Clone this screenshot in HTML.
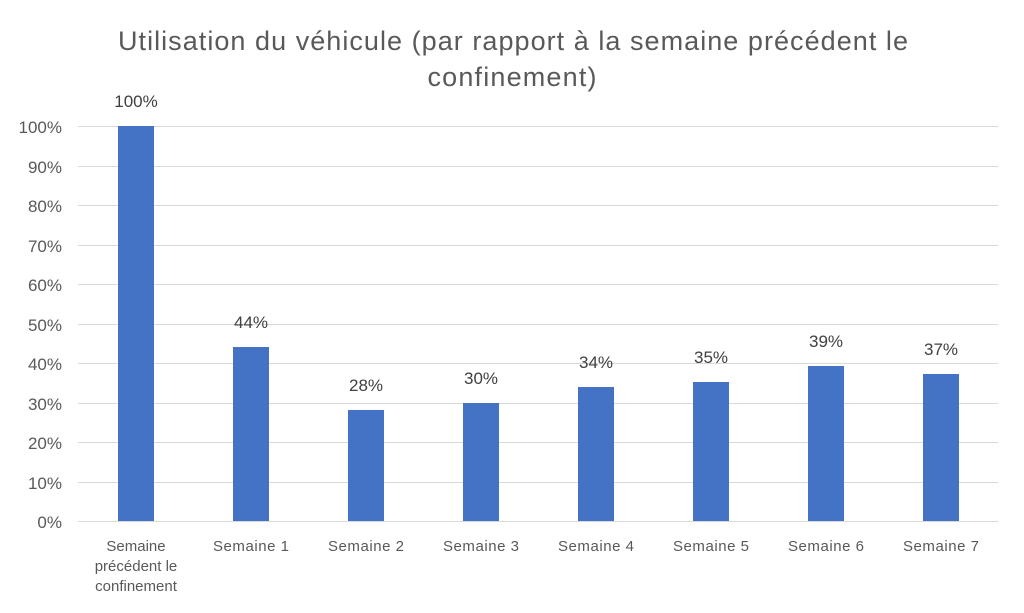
<!DOCTYPE html>
<html><head><meta charset="utf-8"><style>
body{margin:0;background:#fff;}
svg{display:block;font-family:"Liberation Sans",Arial,sans-serif;}
</style></head><body>
<svg width="1024" height="613" viewBox="0 0 1024 613" xmlns="http://www.w3.org/2000/svg">
<rect width="1024" height="613" fill="#fff"/>
<g fill="#595959" font-size="27" text-anchor="middle">
<text x="513" y="50" textLength="790" lengthAdjust="spacing">Utilisation du véhicule (par rapport à la semaine précédent le</text>
<text x="512" y="86" textLength="169" lengthAdjust="spacing">confinement)</text>
</g>
<g stroke="#d9d9d9" stroke-width="1">
<line x1="78" x2="998" y1="126.5" y2="126.5"/>
<line x1="78" x2="998" y1="166.5" y2="166.5"/>
<line x1="78" x2="998" y1="205.5" y2="205.5"/>
<line x1="78" x2="998" y1="245.5" y2="245.5"/>
<line x1="78" x2="998" y1="284.5" y2="284.5"/>
<line x1="78" x2="998" y1="324.5" y2="324.5"/>
<line x1="78" x2="998" y1="363.5" y2="363.5"/>
<line x1="78" x2="998" y1="403.5" y2="403.5"/>
<line x1="78" x2="998" y1="442.5" y2="442.5"/>
<line x1="78" x2="998" y1="482.5" y2="482.5"/>
<line x1="78" x2="998" y1="521.5" y2="521.5"/>
</g>
<g fill="#595959" font-size="17" text-anchor="end">
<text x="62" y="133">100%</text>
<text x="62" y="173">90%</text>
<text x="62" y="212">80%</text>
<text x="62" y="252">70%</text>
<text x="62" y="291">60%</text>
<text x="62" y="331">50%</text>
<text x="62" y="370">40%</text>
<text x="62" y="410">30%</text>
<text x="62" y="449">20%</text>
<text x="62" y="489">10%</text>
<text x="62" y="528">0%</text>
</g>
<g fill="#4472c4">
<rect x="118" y="126" width="36" height="395"/>
<rect x="233" y="347" width="36" height="174"/>
<rect x="348" y="410" width="36" height="111"/>
<rect x="463" y="403" width="36" height="118"/>
<rect x="578" y="387" width="36" height="134"/>
<rect x="693" y="382" width="36" height="139"/>
<rect x="808" y="366" width="36" height="155"/>
<rect x="923" y="374" width="36" height="147"/>
</g>
<g fill="#404040" font-size="17" text-anchor="middle">
<text x="136" y="107">100%</text>
<text x="251" y="328">44%</text>
<text x="366" y="391">28%</text>
<text x="481" y="384">30%</text>
<text x="596" y="368">34%</text>
<text x="711" y="363">35%</text>
<text x="826" y="347">39%</text>
<text x="941" y="355">37%</text>
</g>
<g fill="#595959" font-size="15" text-anchor="middle">
<text x="136" y="551">Semaine</text>
<text x="136" y="571">précédent le</text>
<text x="136" y="591">confinement</text>
<text x="251" y="551" textLength="76">Semaine 1</text>
<text x="366" y="551" textLength="76">Semaine 2</text>
<text x="481" y="551" textLength="76">Semaine 3</text>
<text x="596" y="551" textLength="76">Semaine 4</text>
<text x="711" y="551" textLength="76">Semaine 5</text>
<text x="826" y="551" textLength="76">Semaine 6</text>
<text x="941" y="551" textLength="76">Semaine 7</text>
</g>
</svg>
</body></html>
